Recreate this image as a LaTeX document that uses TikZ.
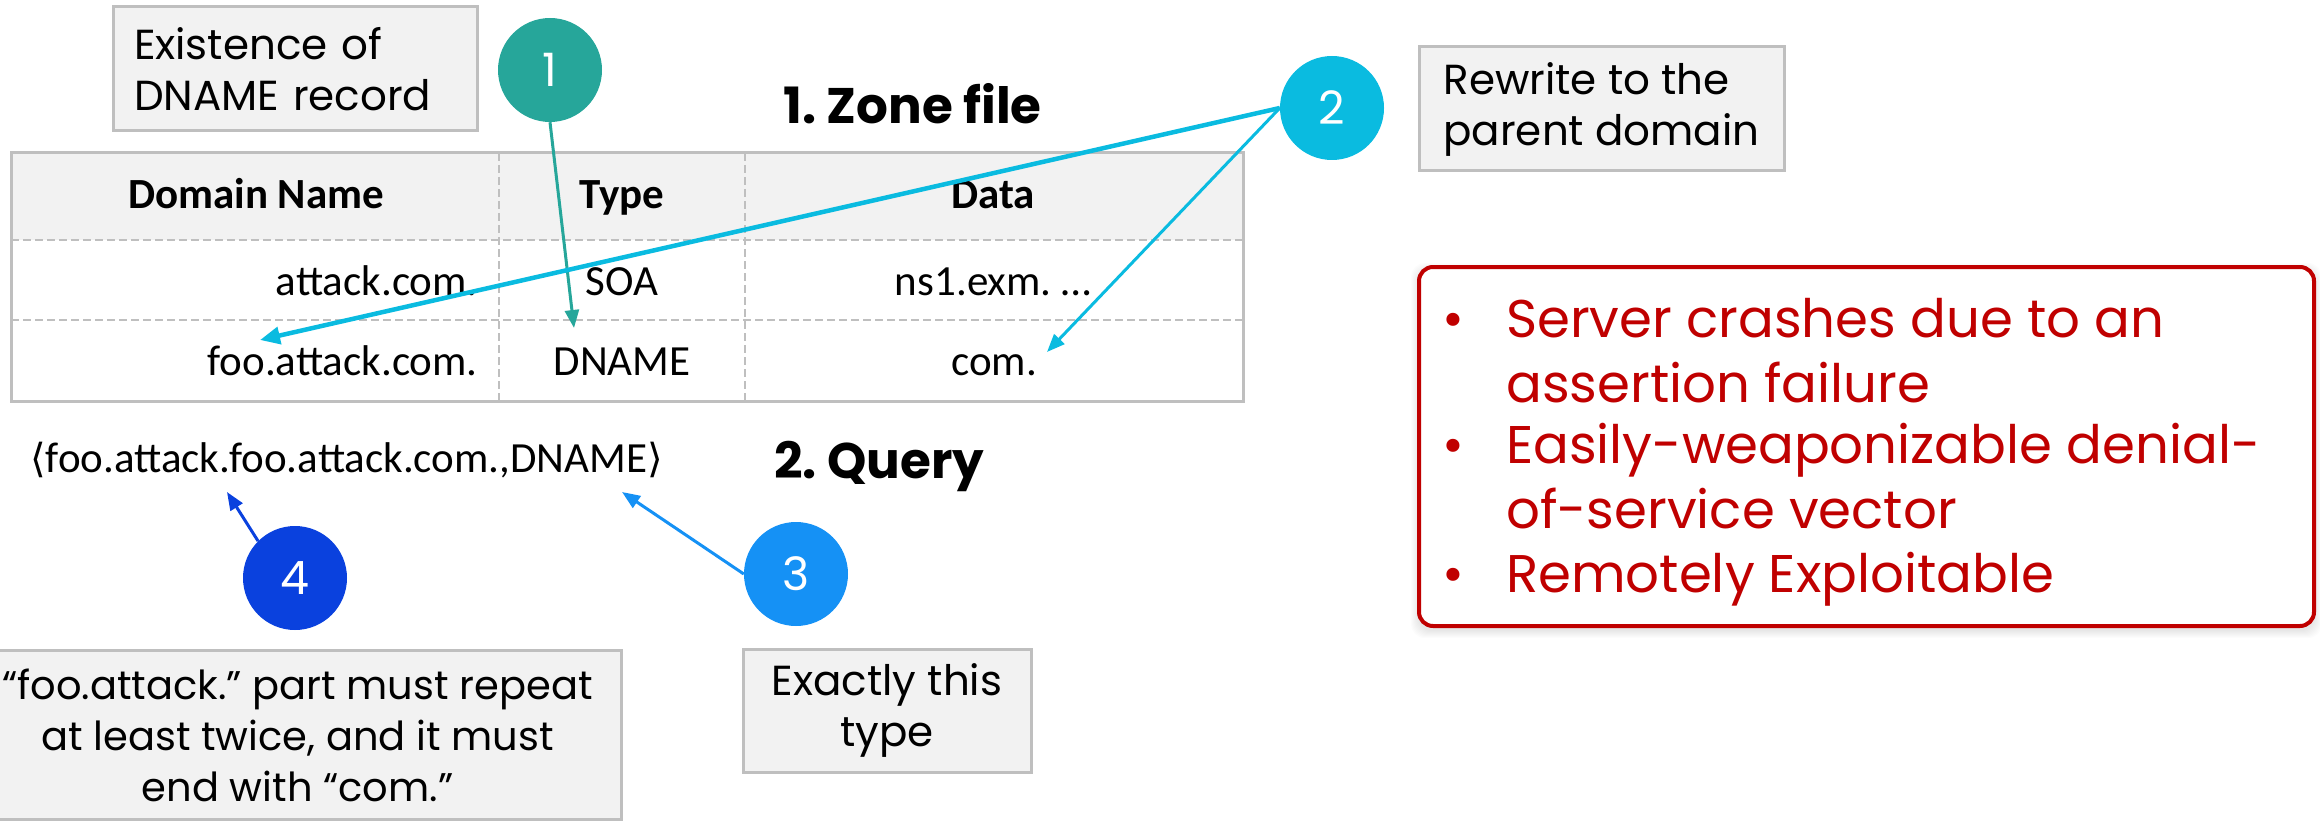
\documentclass[tikz,border=0pt]{standalone}
\usepackage{fontspec}
\setmainfont{Poppins}
\newfontfamily\tabfont{Carlito}
\newfontfamily\bracketfont{DejaVu Sans}
\usetikzlibrary{arrows.meta}
\frenchspacing

\definecolor{tealone}{RGB}{38,166,154}
\definecolor{cyantwo}{RGB}{10,187,224}
\definecolor{bluethree}{RGB}{21,145,245}
\definecolor{bluefour}{RGB}{10,65,222}
\definecolor{alertred}{RGB}{192,0,0}
\definecolor{boxfill}{RGB}{242,242,242}
\definecolor{boxline}{RGB}{191,191,191}

\begin{document}
\begin{tikzpicture}[x=1pt,y=-1pt,
  note/.style={draw=boxline, line width=3pt, fill=boxfill, inner ysep=0pt,
    font=\fontsize{42}{51}\selectfont},
  num/.style={circle, minimum size=104pt, inner sep=0pt, text=white,
    font=\fontsize{46}{46}\selectfont},
  cell/.style={font=\tabfont\fontsize{43}{43}\selectfont, inner sep=0pt},
  title/.style={font=\bfseries\fontsize{50}{50}\selectfont, inner sep=0pt},
  tabdash/.style={draw=boxline, line width=2pt, dash pattern=on 8pt off 4pt},
  pointer/.style={line width=3pt, -{Triangle[length=18pt,width=14pt]}},
  item/.style={font=\fontsize{53}{65}\selectfont, text=alertred, inner sep=0pt,
    align=left, anchor=base west},
  dot/.style={font=\fontsize{53}{53}\selectfont, text=alertred, inner sep=0pt, anchor=base}
]
\useasboundingbox (0,0) rectangle (2320,821);

% ---- zone file table ----
\fill[boxfill] (11,153) rectangle (1243,240);
\draw[tabdash] (11,240) -- (1243,240);
\draw[tabdash] (11,320) -- (1243,320);
\draw[tabdash] (499,153) -- (499,401);
\draw[tabdash] (745,153) -- (745,401);
\draw[boxline, line width=3pt] (11,153) rectangle (1243,401);

\node[cell, anchor=base] (hname) at (256,208) {\bfseries Domain Name};
\node[cell, anchor=base] (htype) at (622,208) {\bfseries Type};
\node[cell, anchor=base] (hdata) at (993,208) {\bfseries Data};
\node[cell, anchor=base east] (rname1) at (478,295) {attack.com.};
\node[cell, anchor=base] (rtype1) at (622,295) {SOA};
\node[cell, anchor=base] (rdata1) at (993,295) {ns1.exm. …};
\node[cell, anchor=base east] (rname2) at (478,375) {foo.attack.com.};
\node[cell, anchor=base] (rtype2) at (622,375) {DNAME};
\node[cell, anchor=base] (rdata2) at (994,375) {com.};

\node[title, anchor=base west] (zonetitle) at (783,124) {1. Zone file};

% ---- query ----
\node[cell, anchor=base west] (query) at (30,472)
  {{\bracketfont\fontsize{40}{40}\selectfont ⟨}foo.attack.foo.attack.com.,DNAME{\bracketfont\fontsize{40}{40}\selectfont ⟩}};
\node[title, anchor=base west] (querytitle) at (774,478) {2. Query};

% ---- explanatory notes ----
\node[note, text width=322pt, inner xsep=21pt, align=left, minimum height=124pt]
  (existence) at (295,69) {Existence of\\DNAME record};
\node[note, align=left, minimum width=365pt, minimum height=124pt]
  (rewrite) at (1601.5,109) {Rewrite to the\\parent domain};
\node[note, align=center, minimum width=288pt, minimum height=123pt]
  (exact) at (887,710.5) {Exactly this\\type};
\node[note, align=center, inner ysep=18pt, minimum width=648pt, anchor=north west,
  font=\fontsize{40}{51}\selectfont]
  (repeat) at (-28,649) {“foo.attack.” part must repeat\\at least twice, and it must\\end with “com.”};

% ---- numbered markers ----
\node[num, fill=tealone] (c1) at (550,70) {1};
\node[num, fill=cyantwo] (c2) at (1332,108) {2};
\node[num, fill=bluethree] (c3) at (796,574) {3};
\node[num, fill=bluefour] (c4) at (295,578) {4};

% ---- pointer targets ----
\coordinate (t1) at (574,328);
\coordinate (t2a) at (260,340);
\coordinate (t2b) at (1047,352);
\coordinate (t3) at (622,492);
\coordinate (t4) at (227,492);

\draw[pointer, tealone] (c1.south) -- (t1);
\draw[pointer, cyantwo, line width=4.5pt, -{Triangle[length=20pt,width=17pt]}] (c2.west) -- (t2a);
\draw[pointer, cyantwo] (c2.west) -- (t2b);
\draw[pointer, bluethree] (c3.west) -- (t3);
\draw[pointer, bluefour] (c4.135) -- (t4);

% ---- impact box ----
\foreach \s in {1,...,8}
  \fill[black, opacity=0.012, rounded corners=14pt]
    (1419-\s,267-\s+4) rectangle (2314+\s,626+\s+4);
\node[draw=alertred, line width=4pt, fill=white, rounded corners=14pt,
  minimum width=895pt, minimum height=359pt, inner sep=0pt] (impact) at (1866.5,446.5) {};

% multi-line items are placed by the baseline of their last line
\node[dot] (d1) at (1453,337) {•};
\node[item] (i1) at (1506,402) {Server crashes due to an\\assertion failure};
\node[dot] (d2) at (1453,463) {•};
\node[item] (i2) at (1506,528) {Easily-weaponizable denial-\\of-service vector};
\node[dot] (d3) at (1453,592) {•};
\node[item] (i3) at (1506,592) {Remotely Exploitable};
\end{tikzpicture}
\end{document}
